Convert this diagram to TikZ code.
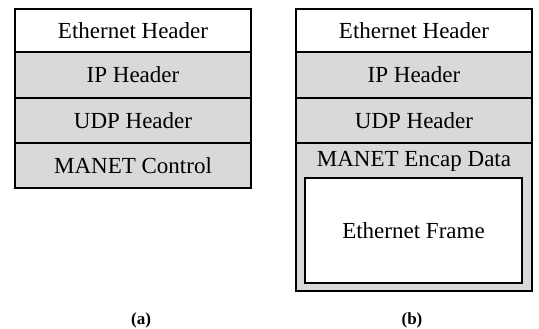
\documentclass[tikz,border=0pt]{standalone}
\usepackage{fontspec}
\setmainfont{Liberation Serif}
\usepackage{tikz}
\usetikzlibrary{positioning}
\definecolor{hdrgray}{HTML}{D9D9D9}
\tikzset{
  rowbox/.style={draw, line width=1.6pt, fill=white, minimum width=236pt, inner sep=0pt, outer sep=0pt, font=\fontsize{23}{27}\selectfont},
  grayrow/.style={rowbox, fill=hdrgray},
  framebox/.style={draw, line width=1.6pt, fill=white, minimum width=217pt, minimum height=105pt, inner sep=0pt, outer sep=0pt, font=\fontsize{23}{27}\selectfont},
  sublabel/.style={font=\fontsize{17}{19}\selectfont\bfseries}
}
\begin{document}
\begin{tikzpicture}[x=1pt, y=-1pt]
  \useasboundingbox (0,0) rectangle (539,329);
  % (a) control packet
  \node[rowbox, minimum height=43pt, anchor=north west] (etha) at (15,9) {Ethernet Header};
  \node[grayrow, minimum height=46pt, below=0pt of etha] (ipa) {IP Header};
  \node[grayrow, minimum height=45pt, below=0pt of ipa] (udpa) {UDP Header};
  \node[grayrow, minimum height=45pt, below=0pt of udpa] (ctrla) {MANET Control};
  % (b) encapsulated frame
  \node[rowbox, minimum height=43pt, anchor=north west] (ethb) at (296,9) {Ethernet Header};
  \node[grayrow, minimum height=46pt, below=0pt of ethb] (ipb) {IP Header};
  \node[grayrow, minimum height=45pt, below=0pt of ipb] (udpb) {UDP Header};
  \node[grayrow, minimum height=148pt, below=0pt of udpb] (encapb) {};
  \node[font=\fontsize{23}{27}\selectfont, inner sep=0pt, anchor=north] (encaplbl) at ([yshift=-8pt]encapb.north) {MANET Encap Data};
  \node[framebox] (frameb) at (413.5,230.5) {Ethernet Frame};
  % captions
  \node[sublabel] (capa) at (141,320) {(a)};
  \node[sublabel] (capb) at (412,320) {(b)};
\end{tikzpicture}
\end{document}
